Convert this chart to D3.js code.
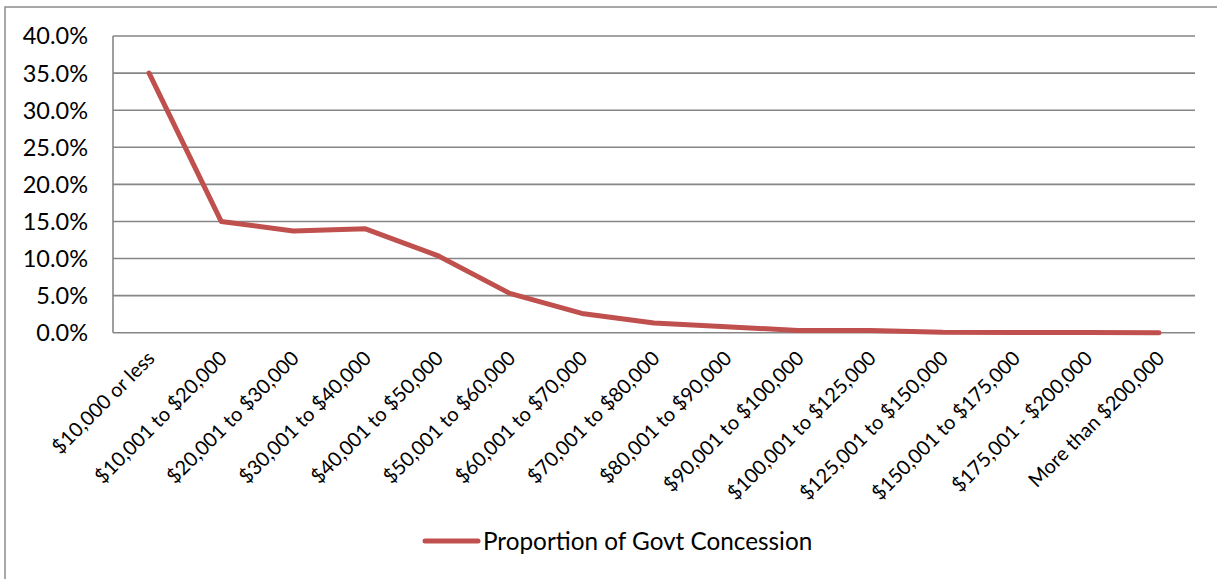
<!DOCTYPE html>
<html><head><meta charset="utf-8">
<script src="https://cdn.jsdelivr.net/npm/d3@7"></script>
<style>body{margin:0;background:#fff}svg{display:block}text{font-family:Lato,"Open Sans",sans-serif;fill:#000}</style>
</head><body>
<svg id="c" width="1217" height="579"></svg>
<script>
const categories = ["$10,000 or less","$10,001 to $20,000","$20,001 to $30,000","$30,001 to $40,000","$40,001 to $50,000","$50,001 to $60,000","$60,001 to $70,000","$70,001 to $80,000","$80,001 to $90,000","$90,001 to $100,000","$100,001 to $125,000","$125,001 to $150,000","$150,001 to $175,000","$175,001 - $200,000","More than $200,000"];
const values = [0.350,0.150,0.137,0.140,0.104,0.053,0.026,0.013,0.008,0.003,0.003,0.0005,0.0003,0.0002,0.0001];
const yTicks = [0,0.05,0.10,0.15,0.20,0.25,0.30,0.35,0.40];
const seriesName = "Proportion of Govt Concession";

const svg = d3.select("#c");
const pLeft = 113, pRight = 1195, pTop = 36, pBottom = 332.7;
const x = d3.scaleBand().domain(categories).range([pLeft, pRight]);
const y = d3.scaleLinear().domain([0, 0.4]).range([pBottom, pTop]);

// outer border
svg.append("rect").attr("x",5).attr("y",7).attr("width",1230).attr("height",600)
  .attr("fill","none").attr("stroke","#8c8c8c").attr("stroke-width",1.5);

// gridlines
svg.append("g").selectAll("line").data(yTicks).join("line")
  .attr("x1",pLeft).attr("x2",pRight).attr("y1",d=>y(d)).attr("y2",d=>y(d))
  .attr("stroke","#868686").attr("stroke-width",1.6);
// y axis line
svg.append("line").attr("x1",pLeft).attr("x2",pLeft).attr("y1",pTop).attr("y2",pBottom)
  .attr("stroke","#868686").attr("stroke-width",1.6);

// y labels
const fmt = d3.format(".1%");
svg.append("g").selectAll("text").data(yTicks).join("text")
  .attr("x",88).attr("y",d=>y(d)).attr("dy","0.36em").attr("text-anchor","end")
  .style("font-size","23.5px").text(d=>fmt(d));

// x labels
svg.append("g").selectAll("text").data(categories).join("text")
  .attr("transform",d=>`translate(${x(d)+x.bandwidth()/2-3},${pBottom+17}) rotate(-45)`)
  .attr("text-anchor","end").attr("dy","0.7em")
  .style("font-size","20px").text(d=>d);

// line
const line = d3.line().x((d,i)=>x(categories[i])+x.bandwidth()/2).y(d=>y(d));
svg.append("path").datum(values).attr("d",line).attr("fill","none")
  .attr("stroke","#C0504D").attr("stroke-width",5).attr("stroke-linejoin","round").attr("stroke-linecap","round");

// legend
const lg = svg.append("g");
lg.append("line").attr("x1",425).attr("x2",478).attr("y1",541).attr("y2",541)
  .attr("stroke","#C0504D").attr("stroke-width",5).attr("stroke-linecap","round");
lg.append("text").attr("x",483).attr("y",541).attr("dy","0.36em").style("font-size","24.3px").text(seriesName);
</script>
</body></html>
